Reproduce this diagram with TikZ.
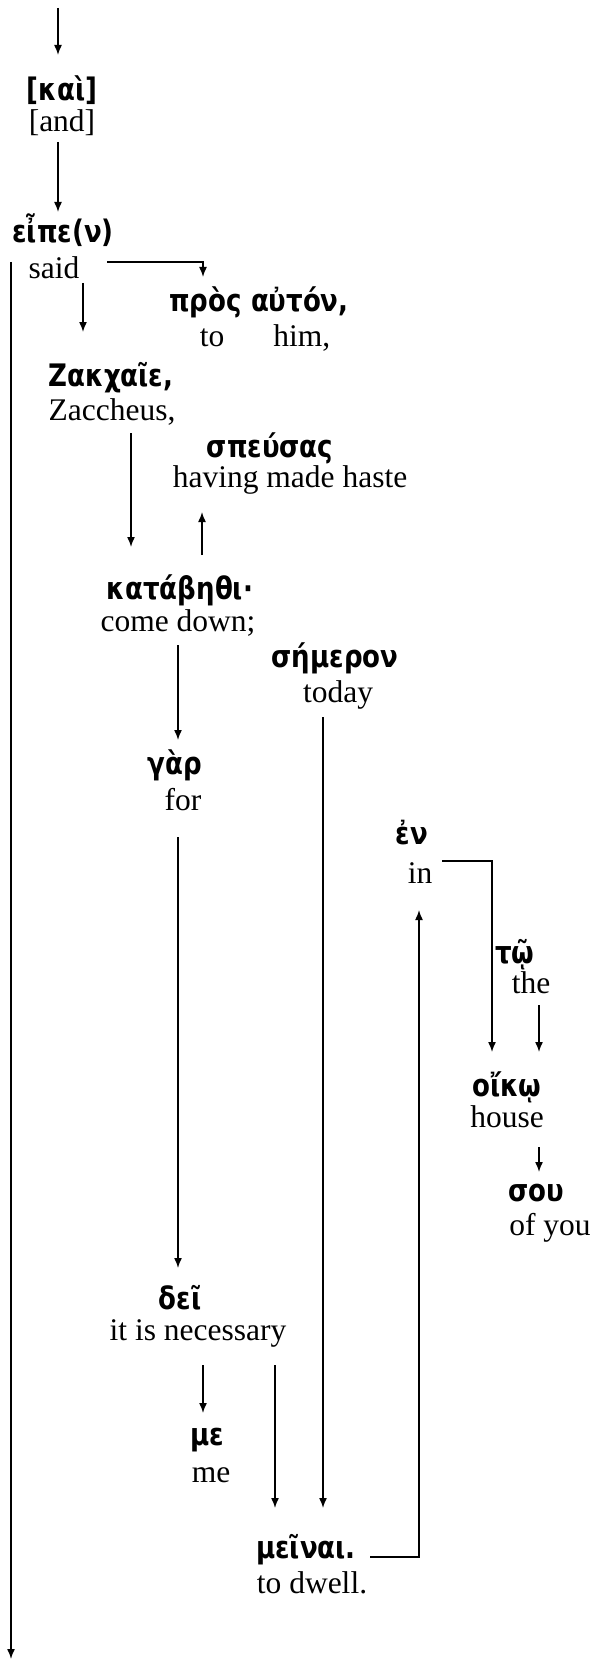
\documentclass[tikz,border=0pt]{standalone}
\usepackage{fontspec}
\setmainfont{Liberation Serif}
\newfontfamily\grk{DejaVu Sans}[FakeStretch=0.84]
\usetikzlibrary{arrows.meta}
\begin{document}
\begin{tikzpicture}[x=1pt,y=-1pt,
  en/.style={font=\fontsize{31.5}{36}\selectfont, inner sep=0pt},
  gr/.style={font=\grk\bfseries\fontsize{31}{36}\selectfont, inner sep=0pt},
  arr/.style={-{Latex[length=10pt,width=8pt]}, line width=1.5pt},
  ln/.style={line width=1.5pt}]
\useasboundingbox (0,0) rectangle (595,1661);
\node[gr] (kaiGr) at (62,90) {[καὶ]};
\node[en] (kaiEn) at (62,123) {[and]};
\node[gr] (eipGr) at (63,230) {εἶπε(ν)};
\node[en] (eipEn) at (54,268) {said};
\node[gr] (prosGr) at (259,302) {πρὸς αὐτόν,};
\node[en] (prosEn) at (265,338) {to\hspace{49pt}him,};
\node[gr] (zakGr) at (111,378) {Ζακχαῖε,};
\node[en] (zakEn) at (112,412) {Zaccheus,};
\node[gr] (speGr) at (270,448) {σπεύσας};
\node[en] (speEn) at (290,480) {having made haste};
\node[gr] (katGr) at (180,590) {κατάβηθι·};
\node[en] (katEn) at (178,623) {come down;};
\node[gr] (semGr) at (335,658) {σήμερον};
\node[en] (semEn) at (338,695) {today};
\node[gr] (garGr) at (175,765) {γὰρ};
\node[en] (garEn) at (183,800) {for};
\node[gr] (enGr) at (412,833) {ἐν};
\node[en] (enEn) at (420,873) {in};
\node[gr] (toGr) at (515,955) {τῷ};
\node[en] (toEn) at (531,983) {the};
\node[gr] (oikGr) at (507,1087) {οἴκῳ};
\node[en] (oikEn) at (507,1117) {house};
\node[gr] (souGr) at (536,1193) {σου};
\node[en] (souEn) at (550,1228) {of you};
\node[gr] (deiGr) at (180,1298) {δεῖ};
\node[en] (deiEn) at (198,1333) {it is necessary};
\node[gr] (meGr) at (207,1440) {με};
\node[en] (meEn) at (211,1475) {me};
\node[gr] (meiGr) at (306,1550) {μεῖναι.};
\node[en] (meiEn) at (312,1583) {to dwell.};
\coordinate (top) at (58,8);
\coordinate (bot) at (11,1659);
% connectors
\draw[arr] (top) -- ([shift={(-4,-35)}]kaiGr.center);
\draw[arr] ([shift={(-4,19)}]kaiEn.center) -- ([shift={(-5,-18)}]eipGr.center);
\draw[arr] ([shift={(53,-6)}]eipEn.center) -| ([shift={(-56,-25)}]prosGr.center);
\draw[arr] ([shift={(29,15)}]eipEn.center) -- ([shift={(-28,-46)}]zakGr.center);
\draw[arr] ([shift={(19,21)}]zakEn.center) -- ([shift={(-49,-43)}]katGr.center);
\draw[arr] ([shift={(22,-35)}]katGr.center) -- ([shift={(-88,32)}]speEn.center);
\draw[arr] ([shift={(0,22)}]katEn.center) -- ([shift={(3,-25)}]garGr.center);
\draw[arr] ([shift={(-5,37)}]garEn.center) -- ([shift={(-2,-30)}]deiGr.center);
\draw[arr] ([shift={(-15,22)}]semEn.center) -- ([shift={(17,-42)}]meiGr.center);
\draw[arr] ([shift={(5,32)}]deiEn.center) -- ([shift={(-4,-27)}]meGr.center);
\draw[arr] ([shift={(77,32)}]deiEn.center) -- ([shift={(-31,-42)}]meiGr.center);
\draw[arr] ([shift={(64,7)}]meiGr.center) -| ([shift={(-1,37)}]enEn.center);
\draw[arr] ([shift={(22,-12)}]enEn.center) -| ([shift={(-15,-35)}]oikGr.center);
\draw[arr] ([shift={(8,22)}]toEn.center) -- ([shift={(32,-35)}]oikGr.center);
\draw[arr] ([shift={(32,30)}]oikEn.center) -- ([shift={(3,-21)}]souGr.center);
\draw[arr] ([shift={(-43,-6)}]eipEn.center) -- (bot);
\end{tikzpicture}
\end{document}
